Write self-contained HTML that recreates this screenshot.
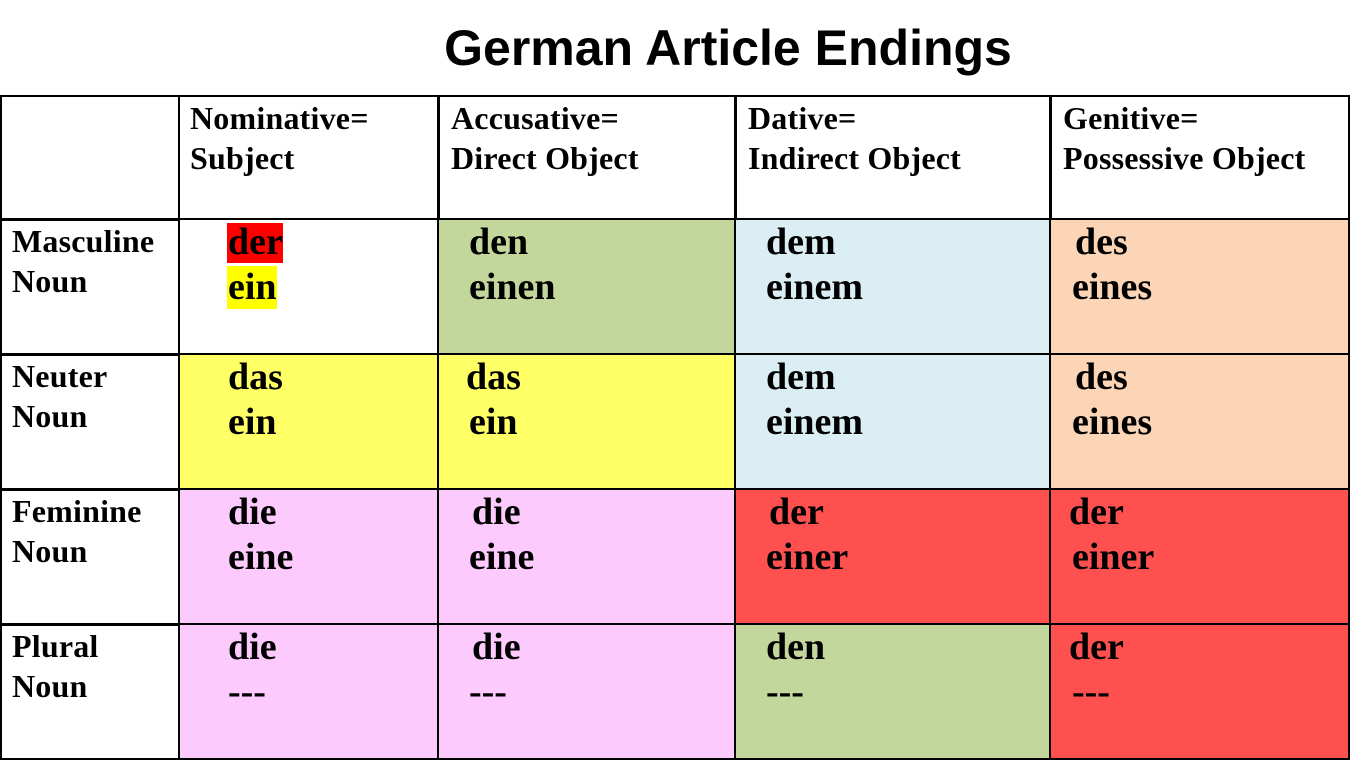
<!DOCTYPE html>
<html><head><meta charset="utf-8"><style>
body{margin:0;width:1350px;height:760px;background:#fff;position:relative;overflow:hidden;font-family:"Liberation Serif",serif;}
.t{position:absolute;left:0;width:1456px;top:19px;text-align:center;font:bold 50px "Liberation Sans",sans-serif;}
.c{position:absolute;box-sizing:border-box;border:2px solid #000;}
.h{position:absolute;font-weight:bold;font-size:32px;line-height:40px;letter-spacing:0.2px;white-space:nowrap;}
.v{position:absolute;font-weight:bold;font-size:38px;line-height:45px;letter-spacing:0;white-space:nowrap;}
</style></head><body>
<div class="t">German Article Endings</div>
<div class="c" style="left:0;top:95px;width:180px;height:126px"></div>
<div class="c" style="left:178px;top:95px;width:262px;height:126px"></div>
<div class="c" style="left:437px;top:95px;width:300px;height:126px"></div>
<div class="c" style="left:734px;top:95px;width:318px;height:126px"></div>
<div class="c" style="left:1049px;top:95px;width:301px;height:126px"></div>

<div class="c" style="left:0;top:218px;width:180px;height:138px"></div>
<div class="c" style="left:178px;top:218px;width:262px;height:138px;background:#fff"></div>
<div class="c" style="left:437px;top:218px;width:300px;height:138px;background:#c3d69b"></div>
<div class="c" style="left:734px;top:218px;width:318px;height:138px;background:#daeef3"></div>
<div class="c" style="left:1049px;top:218px;width:301px;height:138px;background:#fbd5b5"></div>

<div class="c" style="left:0;top:353px;width:180px;height:138px"></div>
<div class="c" style="left:178px;top:353px;width:262px;height:138px;background:#ffff66"></div>
<div class="c" style="left:437px;top:353px;width:300px;height:138px;background:#ffff66"></div>
<div class="c" style="left:734px;top:353px;width:318px;height:138px;background:#daeef3"></div>
<div class="c" style="left:1049px;top:353px;width:301px;height:138px;background:#fbd5b5"></div>

<div class="c" style="left:0;top:488px;width:180px;height:138px"></div>
<div class="c" style="left:178px;top:488px;width:262px;height:138px;background:#fccafc"></div>
<div class="c" style="left:437px;top:488px;width:300px;height:138px;background:#fccafc"></div>
<div class="c" style="left:734px;top:488px;width:318px;height:138px;background:#ff5050"></div>
<div class="c" style="left:1049px;top:488px;width:301px;height:138px;background:#ff5050"></div>

<div class="c" style="left:0;top:623px;width:180px;height:137px"></div>
<div class="c" style="left:178px;top:623px;width:262px;height:137px;background:#fccafc"></div>
<div class="c" style="left:437px;top:623px;width:300px;height:137px;background:#fccafc"></div>
<div class="c" style="left:734px;top:623px;width:318px;height:137px;background:#c3d69b"></div>
<div class="c" style="left:1049px;top:623px;width:301px;height:137px;background:#ff5050"></div>

<div class="h" style="left:190px;top:98px">Nominative=<br>Subject</div>
<div class="h" style="left:451px;top:98px">Accusative=<br>Direct Object</div>
<div class="h" style="left:748px;top:98px">Dative=<br>Indirect Object</div>
<div class="h" style="left:1063px;top:98px">Genitive=<br>Possessive Object</div>
<div class="h" style="left:12px;top:221px">Masculine<br>Noun</div>
<div class="h" style="left:12px;top:356px">Neuter<br>Noun</div>
<div class="h" style="left:12px;top:491px">Feminine<br>Noun</div>
<div class="h" style="left:12px;top:626px">Plural<br>Noun</div>

<div style="position:absolute;left:227px;top:223px;width:56px;height:40px;background:#ff0000"></div>
<div style="position:absolute;left:227px;top:266px;width:50px;height:43px;background:#ffff00"></div>
<div class="v" style="left:228px;top:220px">der<br>ein</div>
<div class="v" style="left:469px;top:220px">den<br>einen</div>
<div class="v" style="left:766px;top:220px">dem<br>einem</div>
<div class="v" style="left:1075px;top:220px">des</div>
<div class="v" style="left:1072px;top:265px">eines</div>
<div class="v" style="left:228px;top:355px">das<br>ein</div>
<div class="v" style="left:466px;top:355px">das</div>
<div class="v" style="left:469px;top:400px">ein</div>
<div class="v" style="left:766px;top:355px">dem<br>einem</div>
<div class="v" style="left:1075px;top:355px">des</div>
<div class="v" style="left:1072px;top:400px">eines</div>
<div class="v" style="left:228px;top:490px">die<br>eine</div>
<div class="v" style="left:472px;top:490px">die</div>
<div class="v" style="left:469px;top:535px">eine</div>
<div class="v" style="left:769px;top:490px">der</div>
<div class="v" style="left:766px;top:535px">einer</div>
<div class="v" style="left:1069px;top:490px">der</div>
<div class="v" style="left:1072px;top:535px">einer</div>
<div class="v" style="left:228px;top:625px">die<br>---</div>
<div class="v" style="left:472px;top:625px">die</div>
<div class="v" style="left:469px;top:670px">---</div>
<div class="v" style="left:766px;top:625px">den<br>---</div>
<div class="v" style="left:1069px;top:625px">der</div>
<div class="v" style="left:1072px;top:670px">---</div>
</body></html>
